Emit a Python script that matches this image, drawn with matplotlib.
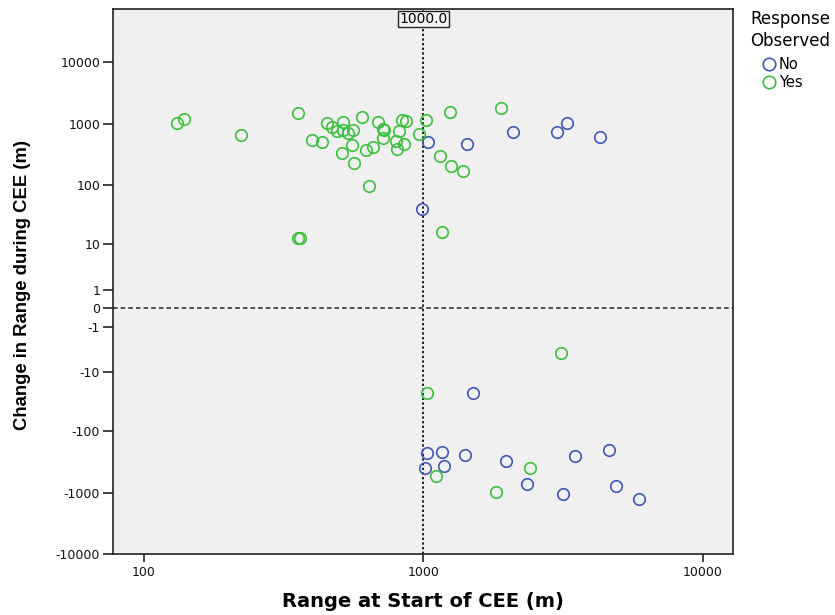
import numpy as np
import matplotlib
matplotlib.use("Agg")
import matplotlib.pyplot as plt
from matplotlib.lines import Line2D
from matplotlib.ticker import FixedLocator, FixedFormatter, NullLocator

plt.rcParams['font.family'] = ['DejaVu Sans']

# Range at start of CEE (m) and change in range during CEE (m)
no_start = [1042, 991, 1429, 2099, 3018, 3269, 4300,
            1503, 1028, 1164, 1414, 1014, 1189, 1977, 3484, 4634,
            2355, 3162, 4900, 5933]
no_change = [500, 39.5, 476, 738, 738, 1034, 612,
             -23, -228, -222, -242, -394, -366, -307, -252, -199,
             -738, -1073, -775, -1294]

yes_start = [131, 139, 222, 355, 452, 470, 517, 490, 517, 535, 559, 602,
             398, 435, 555, 510, 566, 624, 662, 690, 716, 723, 719, 816,
             798, 807, 853, 839, 867, 1023, 966, 640, 355, 362,
             1145, 1164, 1247, 1898, 1251, 1385,
             3105, 1032, 1110, 1815, 2399]
yes_change = [1034, 1214, 667, 1520, 1018, 877, 1085, 755, 804, 711, 804, 1294,
              539, 500, 453, 331, 225, 370, 414, 1073, 835, 804, 596, 755,
              533, 391, 471, 1139, 1098, 1169, 685, 96, 12.7, 12.7,
              293, 16.3, 1560, 1812, 203, 168,
              -4.4, -23, -547, -970, -399]

y_ticks = [10000, 1000, 100, 10, 1, 0, -1, -10, -100, -1000, -10000]
x_ticks = [100, 1000, 10000]
ref_x = 1000.0
ref_y = 0

BLUE = '#4257b2'
GREEN = '#3dbf3d'


def fwd(y):
    y = np.asarray(y, dtype=float)
    return np.sign(y) * np.log10(1.0 + np.abs(y))


def inv(v):
    v = np.asarray(v, dtype=float)
    return np.sign(v) * (10.0 ** np.abs(v) - 1.0)


fig = plt.figure(figsize=(8.35, 6.15), dpi=100)
ax = fig.add_axes([0.1357, 0.0992, 0.8775 - 0.1357, 0.9849 - 0.0992])
ax.set_facecolor('#f0f0f0')

ax.set_xscale('log')
ax.set_yscale('function', functions=(fwd, inv))
ax.set_xlim(77.6, 12800)
ax.set_ylim(-10000, 73000)

ax.axvline(ref_x, color='#222222', lw=1.4, ls=(0, (1.2, 1.2)), zorder=1)
ax.axhline(ref_y, color='#222222', lw=1.1, ls=(0, (3, 2)), zorder=1)

ms = 8.3
ax.plot(no_start, no_change, ls='none', marker='o', ms=ms, mfc='none',
        mec=BLUE, mew=1.2, zorder=3)
ax.plot(yes_start, yes_change, ls='none', marker='o', ms=ms, mfc='none',
        mec=GREEN, mew=1.2, zorder=3)

ax.yaxis.set_major_locator(FixedLocator(y_ticks))
ax.yaxis.set_major_formatter(FixedFormatter([str(t) for t in y_ticks]))
ax.yaxis.set_minor_locator(NullLocator())
ax.xaxis.set_major_locator(FixedLocator(x_ticks))
ax.xaxis.set_major_formatter(FixedFormatter([str(t) for t in x_ticks]))
ax.xaxis.set_minor_locator(NullLocator())

ax.tick_params(axis='both', direction='out', width=1.2, labelsize=9,
               color='#222222', labelcolor='#111111')
ax.tick_params(axis='y', length=7, pad=2.5)
ax.tick_params(axis='x', length=5.5, pad=3)
for s in ax.spines.values():
    s.set_linewidth(1.2)
    s.set_color('#222222')

ax.set_xlabel('Range at Start of CEE (m)', fontsize=14, fontweight='bold',
              va='center')
ax.xaxis.set_label_coords(0.5, -0.088)
ax.set_ylabel('Change in Range during CEE (m)', fontsize=13.3,
              fontweight='bold', family='Liberation Sans', va='center')
ax.yaxis.set_label_coords(-0.147, 0.493)

ax.text(ref_x, 0.995, f'{ref_x:.1f}', transform=ax.get_xaxis_transform(),
        ha='center', va='top', fontsize=10,
        bbox=dict(boxstyle='square,pad=0.1', fc='#f4f4f4', ec='#222222',
                  lw=1.0), zorder=4)

# Legend: centred two-line title above the two response categories
fig.text(790 / 835, 1 - 10 / 615, 'Response\nObserved', ha='center',
         va='top', fontsize=12, linespacing=1.3, multialignment='center')
handles = [Line2D([], [], ls='none', marker='o', ms=9, mfc='none', mec=BLUE,
                  mew=1.2, label='No'),
           Line2D([], [], ls='none', marker='o', ms=9, mfc='none', mec=GREEN,
                  mew=1.2, label='Yes')]
fig.legend(handles=handles, loc='upper left',
           bbox_to_anchor=(762 / 835, 1 - 57 / 615),
           frameon=False, fontsize=10.5, handletextpad=0.15,
           labelspacing=0.2, handlelength=1.0, borderaxespad=0, borderpad=0)

fig.savefig('out.png', dpi=100)
